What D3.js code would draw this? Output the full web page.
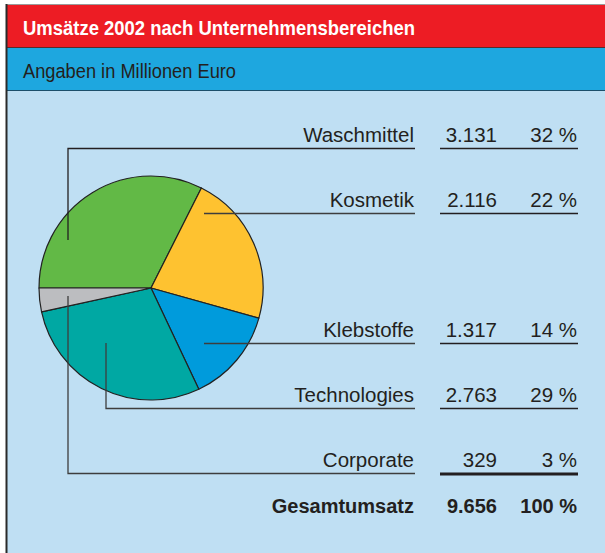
<!DOCTYPE html>
<html>
<head>
<meta charset="utf-8">
<script src="https://cdn.jsdelivr.net/npm/d3@7"></script>
<style>
  html, body { margin: 0; padding: 0; background: #fff; }
  svg { display: block; font-family: "Liberation Sans", Arial, sans-serif; }
</style>
</head>
<body>
<div id="chart"></div>
<script>
// data
const categories = ["Waschmittel", "Kosmetik", "Klebstoffe", "Technologies", "Corporate"];
const values = [3131, 2116, 1317, 2763, 329];
const shares = [32, 22, 14, 29, 3];
const totalLabel = "Gesamtumsatz";
const totalValue = 9656;
const totalShare = 100;
const colors = ["#62b946", "#fec230", "#009bdc", "#00a8a3", "#bcbdc0"];

// row slots on the right (gap between Kosmetik and Klebstoffe)
const rowSlots = [0, 1, 3, 4, 5];
// leader line anchors, relative to pie centre (elbow lines start inside slice)
const leaderDx = [-83, 53, 53, -45, -83];
const leaderDy = [-48, null, null, 55, 8];

const W = 605, H = 553;
const svg = d3.select("#chart").append("svg")
  .attr("width", W)
  .attr("height", H)
  .attr("viewBox", `0 0 ${W} ${H}`);

const ink = "#231f20";
const de = d3.formatLocale({ decimal: ",", thousands: ".", grouping: [3], currency: ["", " €"] });
const fmt = de.format(",d");

// panels
svg.append("rect").attr("x", 6).attr("y", 90).attr("width", W - 6).attr("height", H - 90).attr("fill", "#bfdff3");
svg.append("rect").attr("x", 6).attr("y", 47).attr("width", W - 6).attr("height", 43).attr("fill", "#1ea7df");
svg.append("rect").attr("x", 6).attr("y", 4).attr("width", W - 6).attr("height", 43).attr("fill", "#ed1c24");
svg.append("line").attr("x1", 6).attr("x2", W).attr("y1", 4.5).attr("y2", 4.5).attr("stroke", "#9a9a9a").attr("stroke-width", 1);
svg.append("line").attr("x1", 6).attr("x2", W).attr("y1", 47.5).attr("y2", 47.5).attr("stroke", "#5a2a2a").attr("stroke-width", 1);
svg.append("line").attr("x1", 6).attr("x2", W).attr("y1", 90.5).attr("y2", 90.5).attr("stroke", "#1c4f6a").attr("stroke-width", 1);
svg.append("line").attr("x1", 6.5).attr("x2", 6.5).attr("y1", 4).attr("y2", H).attr("stroke", "#2a2a2a").attr("stroke-width", 2);

// title
svg.append("text")
  .attr("x", 23).attr("y", 35)
  .attr("fill", "#fff")
  .style("font-size", "21px")
  .style("font-weight", "bold")
  .attr("textLength", 392)
  .attr("lengthAdjust", "spacingAndGlyphs")
  .text("Umsätze 2002 nach Unternehmensbereichen");

svg.append("text")
  .attr("x", 23).attr("y", 78)
  .attr("fill", ink)
  .style("font-size", "20.5px")
  .attr("textLength", 213)
  .attr("lengthAdjust", "spacingAndGlyphs")
  .text("Angaben in Millionen Euro");

// pie
const cx = 151, cy = 288, r = 112;
const pie = d3.pie().sort(null).startAngle(-Math.PI / 2).endAngle(Math.PI * 1.5);
const arc = d3.arc().innerRadius(0).outerRadius(r);
const arcs = pie(values);

const g = svg.append("g").attr("transform", `translate(${cx},${cy})`);
g.selectAll("path")
  .data(arcs)
  .join("path")
  .attr("d", arc)
  .attr("fill", (d, i) => colors[i])
  .attr("stroke", "#222")
  .attr("stroke-width", 1.2)
  .attr("stroke-linejoin", "round");

// table
const y = d3.scaleLinear().domain([0, 5]).range([142, 467]);
const labelRight = 414, numRight = 497, pctRight = 577, colLeft = 440;
const fs = "20.5px";

const rows = svg.append("g");
categories.forEach((c, i) => {
  const by = y(rowSlots[i]);
  const ly = Math.round(by + 6) + 0.5;
  const last = i === categories.length - 1;

  // leader line
  const lineCol = i === 0 ? ink : "#3d3d3d";
  const x0 = cx + leaderDx[i];
  let pts;
  if (leaderDy[i] === null) {
    pts = [[x0, ly], [labelRight + 1, ly]];
  } else {
    pts = [[x0, cy + leaderDy[i]], [x0, ly], [labelRight + 1, ly]];
  }
  rows.append("path")
    .attr("d", d3.line()(pts))
    .attr("fill", "none")
    .attr("stroke", lineCol)
    .attr("stroke-width", 1.3);

  rows.append("text")
    .attr("x", labelRight).attr("y", by)
    .attr("text-anchor", "end")
    .attr("fill", ink)
    .style("font-size", fs)
    .text(c);
  rows.append("text")
    .attr("x", numRight).attr("y", by)
    .attr("text-anchor", "end")
    .attr("fill", ink)
    .style("font-size", fs)
    .text(fmt(values[i]));
  rows.append("text")
    .attr("x", pctRight).attr("y", by)
    .attr("text-anchor", "end")
    .attr("fill", ink)
    .style("font-size", fs)
    .text(shares[i] + " %");

  rows.append("line")
    .attr("x1", colLeft).attr("x2", pctRight + 1)
    .attr("y1", last ? ly + 0.5 : ly).attr("y2", last ? ly + 0.5 : ly)
    .attr("stroke", ink)
    .attr("stroke-width", last ? 3 : 1.3);
});

// total row
const ty = 513;
[[labelRight, totalLabel], [numRight, fmt(totalValue)], [pctRight, totalShare + " %"]].forEach(([x, t]) => {
  svg.append("text")
    .attr("x", x).attr("y", ty)
    .attr("text-anchor", "end")
    .attr("fill", ink)
    .style("font-size", "20px")
    .style("font-weight", "bold")
    .text(t);
});
</script>
</body>
</html>
